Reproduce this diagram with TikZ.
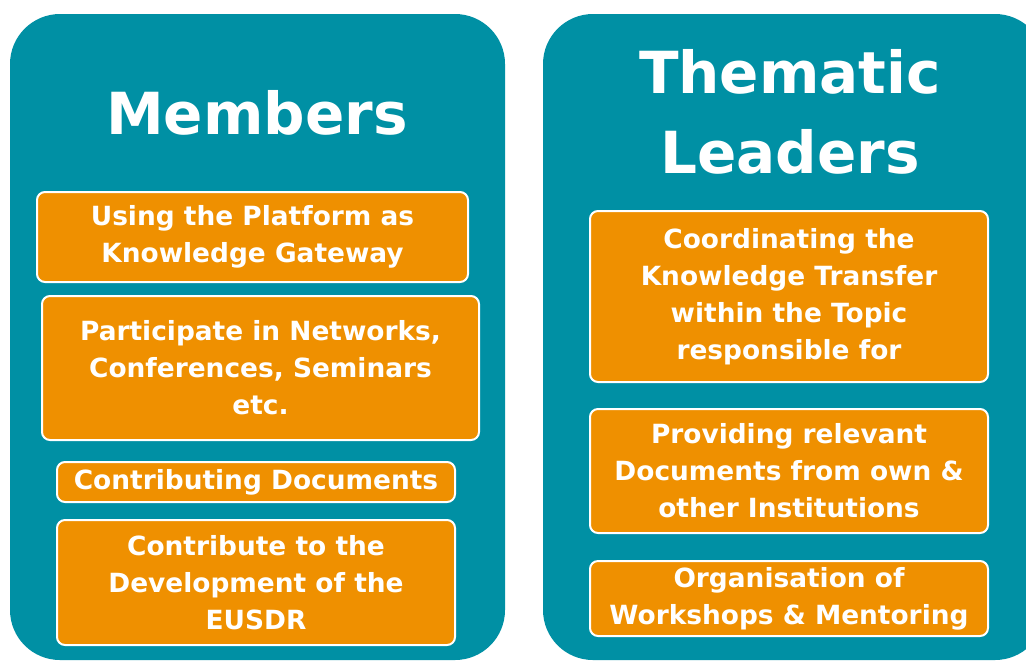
\documentclass[tikz,border=0pt]{standalone}
\usepackage{fontspec}
\setmainfont{DejaVu Sans}
\definecolor{teal}{RGB}{0,144,164}
\definecolor{amber}{RGB}{239,144,0}
\tikzset{
  panel/.style={fill=teal, rounded corners=25pt, inner sep=0pt},
  heading/.style={text=white, font=\bfseries\fontsize{29}{40}\selectfont, align=center},
  task/.style={fill=amber, draw=white, line width=1pt, rounded corners=4pt, text=white, inner sep=0pt,
    align=center, font=\bfseries\fontsize{13.2}{18.5}\selectfont}
}
\begin{document}
\begin{tikzpicture}[x=0.5pt,y=-0.5pt]
\useasboundingbox (0,0) rectangle (1026,660);
\clip (0,0) rectangle (1026,660);
\node[panel, minimum width=247.5pt, minimum height=323pt] (members) at (257.5,337) {};
\node[panel, minimum width=251pt, minimum height=323pt] (leaders) at (794,337) {};
\node[heading] (mtitle) at (257,113) {Members};
\node[heading] (ltitle) at (790,112) {Thematic\\Leaders};
\node[task, minimum width=215.5pt, minimum height=45pt] (gateway) at (252.5,237) {Using the Platform as\\Knowledge Gateway};
\node[task, minimum width=218.5pt, minimum height=72pt] (networks) at (260.5,368) {Participate in Networks,\\Conferences, Seminars\\etc.};
\node[task, minimum width=199pt, minimum height=20pt] (documents) at (256,482) {Contributing Documents};
\node[task, minimum width=199pt, minimum height=62.5pt] (eusdr) at (256,582.5) {Contribute to the\\Development of the\\EUSDR};
\node[task, minimum width=199pt, minimum height=85.5pt] (transfer) at (789,296.5) {Coordinating the\\Knowledge Transfer\\within the Topic\\responsible for};
\node[task, minimum width=199pt, minimum height=62pt] (providing) at (789,471) {Providing relevant\\Documents from own \&\\other Institutions};
\node[task, minimum width=199pt, minimum height=37.5pt] (workshops) at (789,598.5) {Organisation of\\Workshops \& Mentoring};
\end{tikzpicture}
\end{document}
